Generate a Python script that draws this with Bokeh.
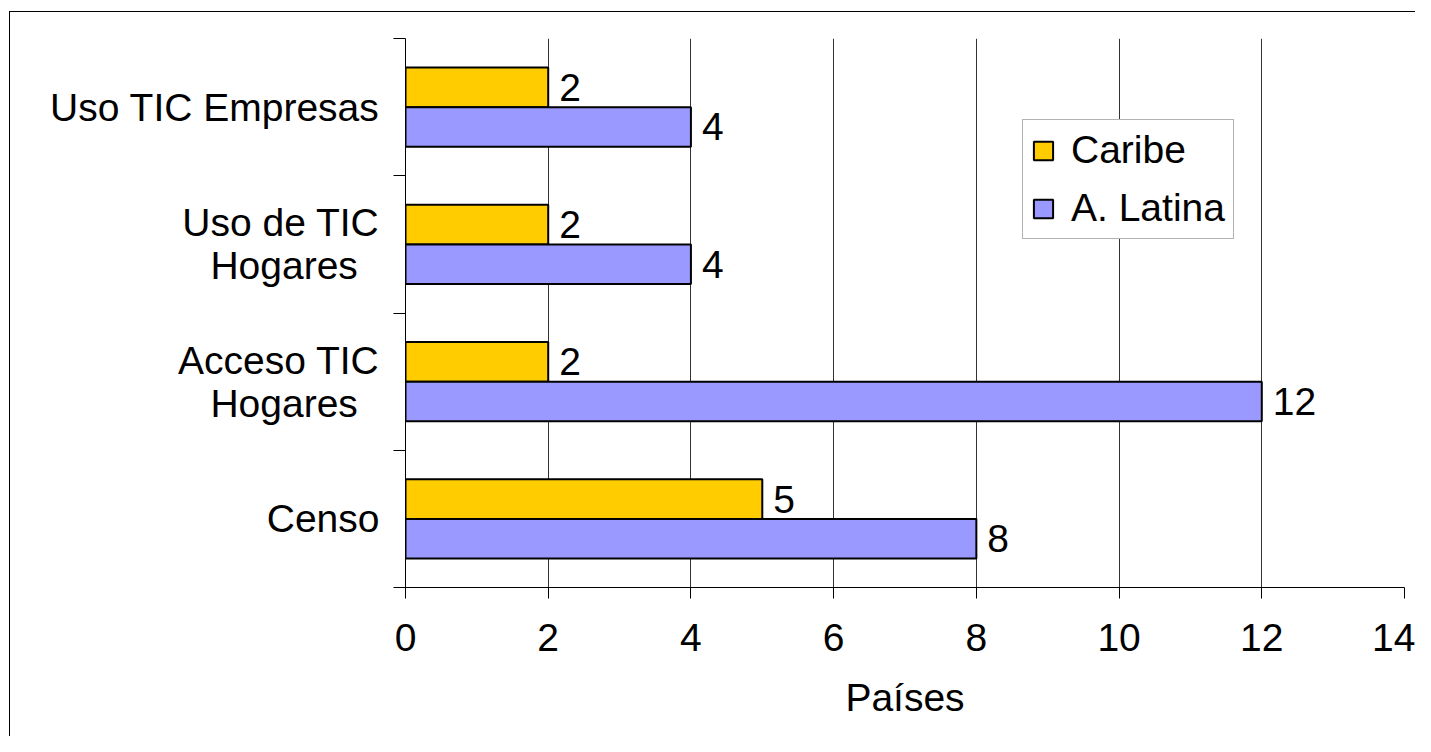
import numpy as np
from bokeh.plotting import figure
from bokeh.models import Range1d, FixedTicker, ColumnDataSource, Legend, LegendItem
from bokeh.core.properties import value
from bokeh.embed import file_html
from bokeh.resources import INLINE

# ---- data ----
categories = ["Censo", "Acceso TIC Hogares", "Uso de TIC Hogares", "Uso TIC Empresas"]
tick_labels = ["Censo", "Acceso TIC\nHogares\u00a0\u00a0", "Uso de TIC\nHogares\u00a0\u00a0", "Uso TIC Empresas"]
caribe = [5, 2, 2, 2]
latina = [8, 12, 4, 4]
series_names = ["Caribe", "A. Latina"]
x_ticks = [0, 2, 4, 6, 8, 10, 12, 14]
x_label = "Países"

FONT = "Liberation Sans"
FS = "39px"

pos = np.arange(len(categories)) + 0.5
OFF = 0.144
H = 0.288

src = ColumnDataSource(dict(
    y_car=pos + OFF, y_lat=pos - OFF,
    caribe=caribe, latina=latina,
    t_car=[str(v) for v in caribe], t_lat=[str(v) for v in latina],
))

p = figure(width=1415, height=736, output_backend="svg", toolbar_location=None,
           x_range=Range1d(0, 14), y_range=Range1d(0, len(categories)),
           min_border_left=405, min_border_right=11, min_border_top=38, min_border_bottom=149)
p.outline_line_color = None
p.background_fill_color = "white"
p.border_fill_color = "white"
# outer chart border (left and top edges visible)
p.stylesheets = [":host::before { content: ''; position: absolute; left: 9px; top: 11px; "
                 "right: -50px; bottom: -50px; border-left: 1px solid black; "
                 "border-top: 1px solid black; pointer-events: none; z-index: 10; }"
                 ":host { position: relative; overflow: hidden; }"]

r_car = p.hbar(y="y_car", left=0, right="caribe", height=H, source=src,
               fill_color="#FFCC00", line_color="black", line_width=2)
r_lat = p.hbar(y="y_lat", left=0, right="latina", height=H, source=src,
               fill_color="#9999FF", line_color="black", line_width=2)

p.text(x="caribe", y="y_car", text="t_car", source=src, x_offset=11,
       text_font=value(FONT), text_font_size=FS, text_baseline="middle", text_color="black")
p.text(x="latina", y="y_lat", text="t_lat", source=src, x_offset=11,
       text_font=value(FONT), text_font_size=FS, text_baseline="middle", text_color="black")

# x axis
xa = p.xaxis[0]
xa.ticker = FixedTicker(ticks=x_ticks)
xa.axis_line_color = "black"
xa.major_tick_line_color = "black"
xa.major_tick_in = 0
xa.major_tick_out = 11
xa.minor_tick_line_color = None
xa.major_label_text_font = FONT
xa.major_label_text_font_size = FS
xa.major_label_text_color = "black"
xa.major_label_standoff = 25
xa.axis_label = x_label
xa.axis_label_text_font = FONT
xa.axis_label_text_font_size = FS
xa.axis_label_text_font_style = "normal"
xa.axis_label_text_color = "black"
xa.axis_label_standoff = 22

# y axis
ya = p.yaxis[0]
ya.ticker = FixedTicker(ticks=list(pos), minor_ticks=list(range(len(categories) + 1)))
ya.major_label_overrides = {float(v): lab for v, lab in zip(pos, tick_labels)}
ya.axis_line_color = "black"
ya.major_tick_line_color = None
ya.major_tick_in = 0
ya.major_tick_out = 0
ya.minor_tick_line_color = "black"
ya.minor_tick_in = 0
ya.minor_tick_out = 12
ya.major_label_text_font = FONT
ya.major_label_text_font_size = FS
ya.major_label_text_color = "black"
ya.major_label_text_line_height = 1.0
ya.major_label_standoff = 14

p.xgrid.grid_line_color = "#333333"
p.xgrid.grid_line_width = 1
p.ygrid.grid_line_color = None

legend = Legend(items=[LegendItem(label=series_names[0], renderers=[r_car]),
                       LegendItem(label=series_names[1], renderers=[r_lat])],
                location=(617, 348))
legend.label_text_font = FONT
legend.label_text_font_size = FS
legend.label_text_color = "black"
legend.border_line_color = "#666666"
legend.border_line_width = 1
legend.background_fill_color = "white"
legend.background_fill_alpha = 1
legend.glyph_width = 24
legend.glyph_height = 23
legend.label_height = 40
legend.label_standoff = 16
legend.padding = 8
legend.spacing = 14
legend.margin = 0
p.add_layout(legend, "center")

open("out.html", "w").write(file_html(p, INLINE))
